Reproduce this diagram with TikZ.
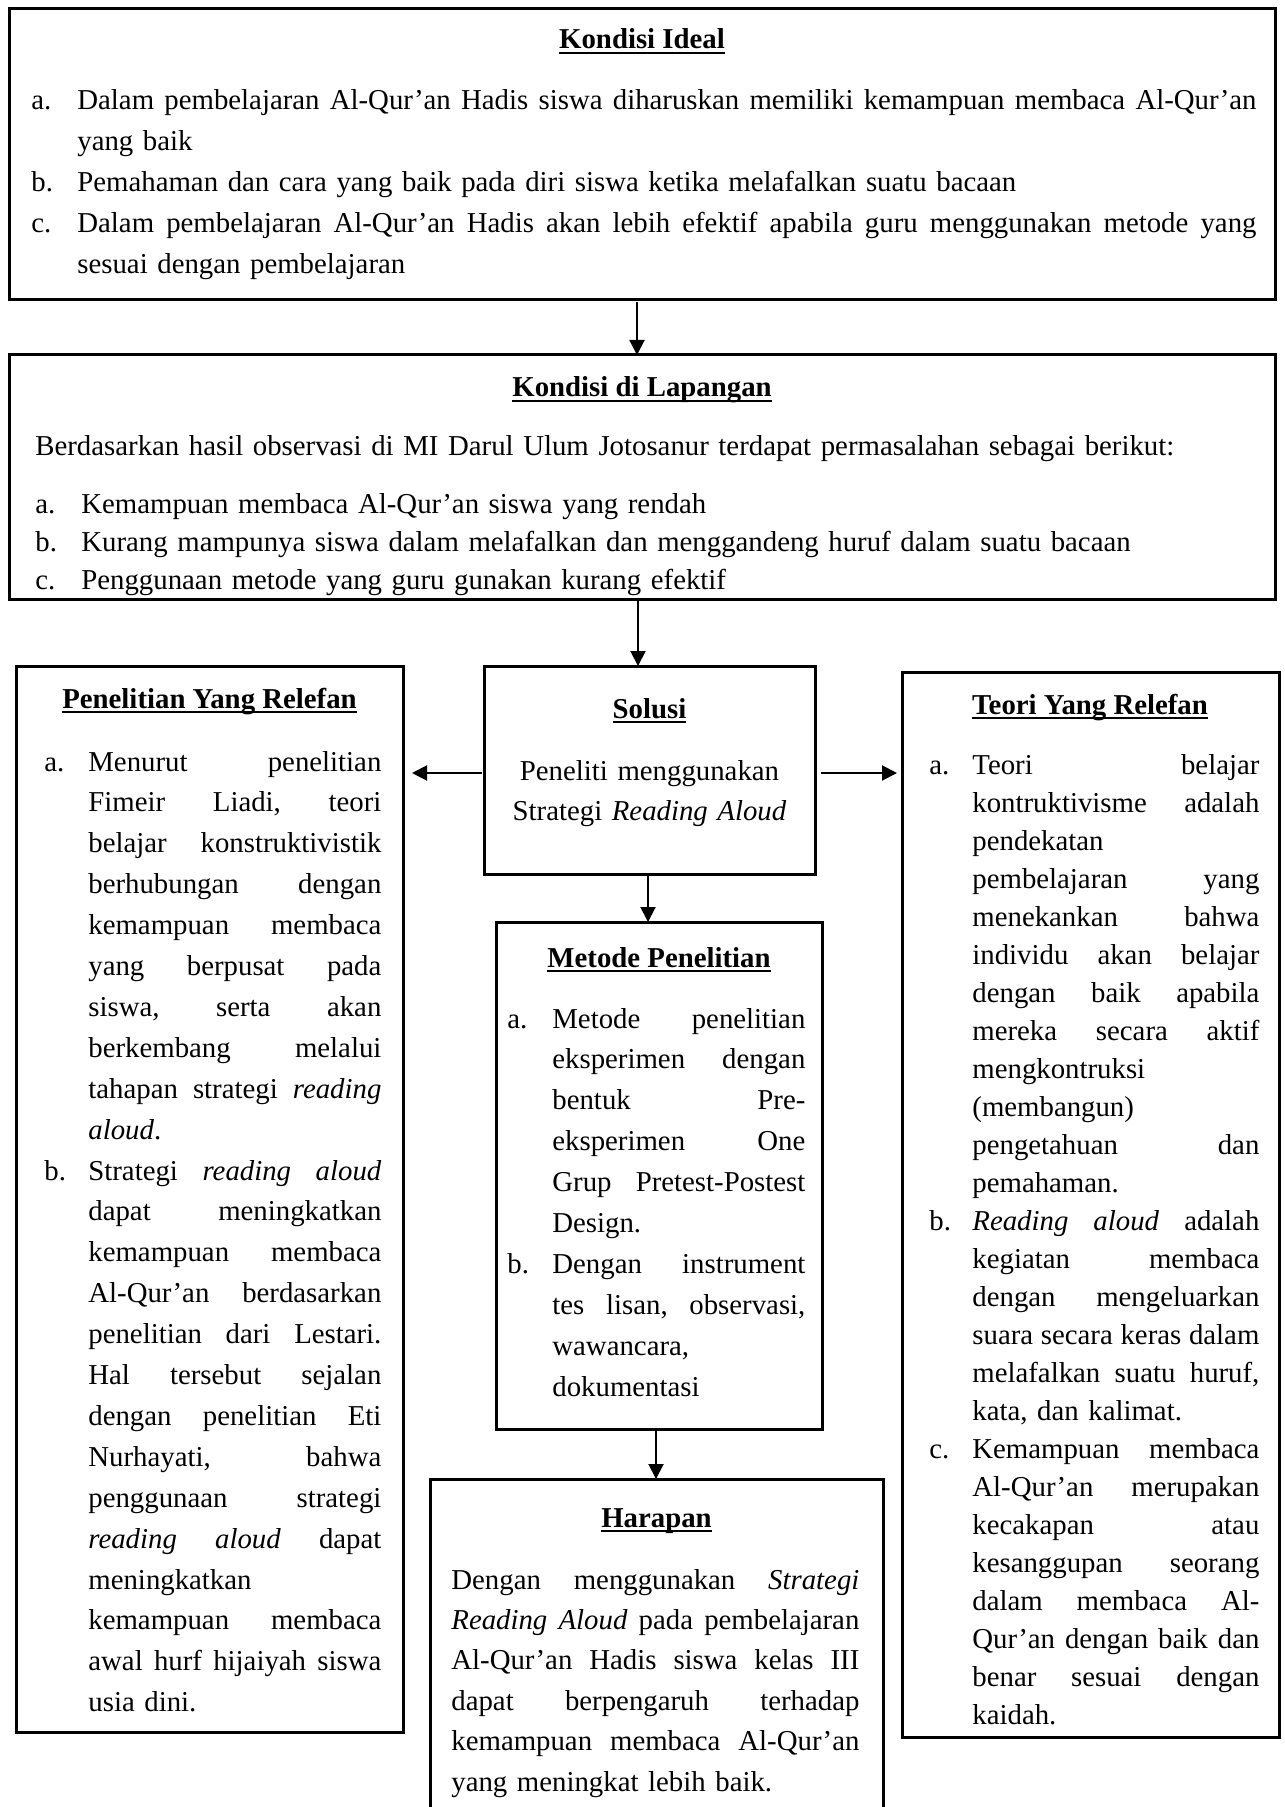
\documentclass[tikz,border=0pt]{standalone}
\usepackage{fontspec}
\setmainfont{Liberation Serif}
\usetikzlibrary{arrows.meta,calc}
\newlength\lw
\newlength\tw
\newsavebox\ttlbox
\newcommand\jbox[1]{\hbox to \tw{\spaceskip=0.25em plus 1fill\relax\frenchspacing #1}}
\newcommand\itJ[2]{\makebox[\lw][l]{#1}\jbox{#2}}
\newcommand\itL[2]{\makebox[\lw][l]{#1}#2}
\newcommand\coJ[1]{\hspace*{\lw}\jbox{#1}}
\newcommand\coL[1]{\hspace*{\lw}#1}
\newcommand\ttl[1]{\sbox\ttlbox{\textbf{#1}}\rlap{\rule[-2.6pt]{\wd\ttlbox}{1pt}}\usebox\ttlbox}
\begin{document}
\begin{tikzpicture}[x=0.5pt,y=-0.5pt,
  box/.style={draw, line width=1.5pt, inner sep=0pt, outer sep=0pt},
  arr/.style={line width=1pt, -{Triangle[length=7.5pt,width=7.5pt]}},
  txt/.style={inner sep=0pt, anchor=base west, align=left, font=\fontsize{14.4pt}{#1}\selectfont},
  title/.style={inner sep=0pt, anchor=base, font=\fontsize{14.4pt}{18pt}\selectfont}]
\useasboundingbox (0,0) rectangle (1284,1807);
\fill[white] (0,0) rectangle (1284,1807);
\clip (0,0) rectangle (1284,1807);

% boxes
\node[box, minimum width=633pt, minimum height=145.5pt] (b1) at (642,154.5) {};
\node[box, minimum width=633pt, minimum height=122pt] (b2) at (642,477) {};
\node[box, minimum width=193.5pt, minimum height=533pt] (bl) at (209.5,1199) {};
\node[box, minimum width=165.5pt, minimum height=104pt] (bs) at (649.5,770) {};
\node[box, minimum width=188.5pt, minimum height=532.5pt] (br) at (1090.5,1204.5) {};
\node[box, minimum width=163pt, minimum height=253.5pt] (bm) at (659,1175.5) {};
\node[box, minimum width=226.5pt, minimum height=185.5pt] (bh) at (656.5,1664.5) {};

% titles
\node[title] (h1) at (642,49) {\ttl{Kondisi Ideal}};
\node[title] (h2) at (642,397) {\ttl{Kondisi di Lapangan}};
\node[title] (hl) at (209.5,708) {\ttl{Penelitian Yang Relefan}};
\node[title] (hs) at (649.5,718) {\ttl{Solusi}};
\node[title] (hr) at (1090,714) {\ttl{Teori Yang Relefan}};
\node[title] (hm) at (659,967) {\ttl{Metode Penelitian}};
\node[title] (hh) at (656.5,1527) {\ttl{Harapan}};

% Kondisi Ideal
\node[txt=20.5pt, text width=612.5pt] (t1) at (31,110) {\setlength\lw{23pt}\setlength\tw{589.5pt}%
\itJ{a.}{Dalam pembelajaran Al-Qur’an Hadis siswa diharuskan memiliki kemampuan membaca Al-Qur’an}\\
\coL{yang baik}\\
\itL{b.}{Pemahaman dan cara yang baik pada diri siswa ketika melafalkan suatu bacaan}\\
\itJ{c.}{Dalam pembelajaran Al-Qur’an Hadis akan lebih efektif apabila guru menggunakan metode yang}\\
\coL{sesuai dengan pembelajaran}};

% Kondisi di Lapangan
\node[txt=19pt, text width=615pt] (t2a) at (35,456) {Berdasarkan hasil observasi di MI Darul Ulum Jotosanur terdapat permasalahan sebagai berikut:};
\node[txt=19pt, text width=615pt] (t2b) at (35,514) {\setlength\lw{23pt}%
\itL{a.}{Kemampuan membaca Al-Qur’an siswa yang rendah}\\
\itL{b.}{Kurang mampunya siswa dalam melafalkan dan menggandeng huruf dalam suatu bacaan}\\
\itL{c.}{Penggunaan metode yang guru gunakan kurang efektif}};

% Penelitian Yang Relefan
\node[txt=20.45pt, text width=168.5pt] (tl) at (44,771) {\setlength\lw{22pt}\setlength\tw{146.5pt}%
\itJ{a.}{Menurut penelitian}\\
\coJ{Fimeir Liadi, teori}\\
\coJ{belajar konstruktivistik}\\
\coJ{berhubungan dengan}\\
\coJ{kemampuan membaca}\\
\coJ{yang berpusat pada}\\
\coJ{siswa, serta akan}\\
\coJ{berkembang melalui}\\
\coJ{tahapan strategi \textit{reading}}\\
\coL{\textit{aloud}.}\\
\itJ{b.}{Strategi \textit{reading} \textit{aloud}}\\
\coJ{dapat meningkatkan}\\
\coJ{kemampuan membaca}\\
\coJ{Al-Qur’an berdasarkan}\\
\coJ{penelitian dari Lestari.}\\
\coJ{Hal tersebut sejalan}\\
\coJ{dengan penelitian Eti}\\
\coJ{Nurhayati, bahwa}\\
\coJ{penggunaan strategi}\\
\coJ{\textit{reading} \textit{aloud} dapat}\\
\coL{meningkatkan}\\
\coJ{kemampuan membaca}\\
\coJ{awal hurf hijaiyah siswa}\\
\coL{usia dini.}};

% Solusi
\node[inner sep=0pt, anchor=base, align=center, text width=160pt, font=\fontsize{14.4pt}{20pt}\selectfont] (ts) at (649.5,780) {Peneliti menggunakan\\Strategi \textit{Reading Aloud}};

% Teori Yang Relefan
\node[txt=19pt, text width=165pt] (tr) at (929,774) {\setlength\lw{21.5pt}\setlength\tw{143.5pt}%
\itJ{a.}{Teori belajar}\\
\coJ{kontruktivisme adalah}\\
\coL{pendekatan}\\
\coJ{pembelajaran yang}\\
\coJ{menekankan bahwa}\\
\coJ{individu akan belajar}\\
\coJ{dengan baik apabila}\\
\coJ{mereka secara aktif}\\
\coL{mengkontruksi}\\
\coL{(membangun)}\\
\coJ{pengetahuan dan}\\
\coL{pemahaman.}\\
\itJ{b.}{\textit{Reading} \textit{aloud} adalah}\\
\coJ{kegiatan membaca}\\
\coJ{dengan mengeluarkan}\\
\coJ{suara secara keras dalam}\\
\coJ{melafalkan suatu huruf,}\\
\coL{kata, dan kalimat.}\\
\itJ{c.}{Kemampuan membaca}\\
\coJ{Al-Qur’an merupakan}\\
\coJ{kecakapan atau}\\
\coJ{kesanggupan seorang}\\
\coJ{dalam membaca Al-}\\
\coJ{Qur’an dengan baik dan}\\
\coJ{benar sesuai dengan}\\
\coL{kaidah.}};

% Metode Penelitian
\node[txt=20.45pt, text width=149pt] (tm) at (507,1028) {\setlength\lw{22.5pt}\setlength\tw{126.5pt}%
\itJ{a.}{Metode penelitian}\\
\coJ{eksperimen dengan}\\
\coJ{bentuk Pre-}\\
\coJ{eksperimen One}\\
\coJ{Grup Pretest-Postest}\\
\coL{Design.}\\
\itJ{b.}{Dengan instrument}\\
\coJ{tes lisan, observasi,}\\
\coL{wawancara,}\\
\coL{dokumentasi}};

% Harapan
\node[txt=20.2pt, text width=204pt] (th) at (451,1589) {\setlength\lw{0pt}\setlength\tw{204pt}%
\coJ{Dengan menggunakan \textit{Strategi}}\\
\coJ{\textit{Reading} \textit{Aloud} pada pembelajaran}\\
\coJ{Al-Qur’an Hadis siswa kelas III}\\
\coJ{dapat berpengaruh terhadap}\\
\coJ{kemampuan membaca Al-Qur’an}\\
\coL{yang meningkat lebih baik.}};

% arrows
\draw[arr] ([xshift=-2.5pt,yshift=-1pt]b1.south) -- ([xshift=-2.5pt]b2.north);
\draw[arr] ($(b2.south)+(-4,2)$) -- ($(bs.north)+(-11.5,0)$);
\draw[arr] ($(bs.west)+(-2,3)$) -- ($(bs.west -| bl.east)+(9,3)$);
\draw[arr] ($(bs.east)+(6,3)$) -- ($(bs.east -| br.west)+(-5,3)$);
\draw[arr] ($(bs.south)+(-1.5,2)$) -- ($(bm.north)+(-11,0)$);
\draw[arr] ($(bm.south)+(-3,2)$) -- ($(bh.north)+(-0.5,0)$);
\end{tikzpicture}
\end{document}
